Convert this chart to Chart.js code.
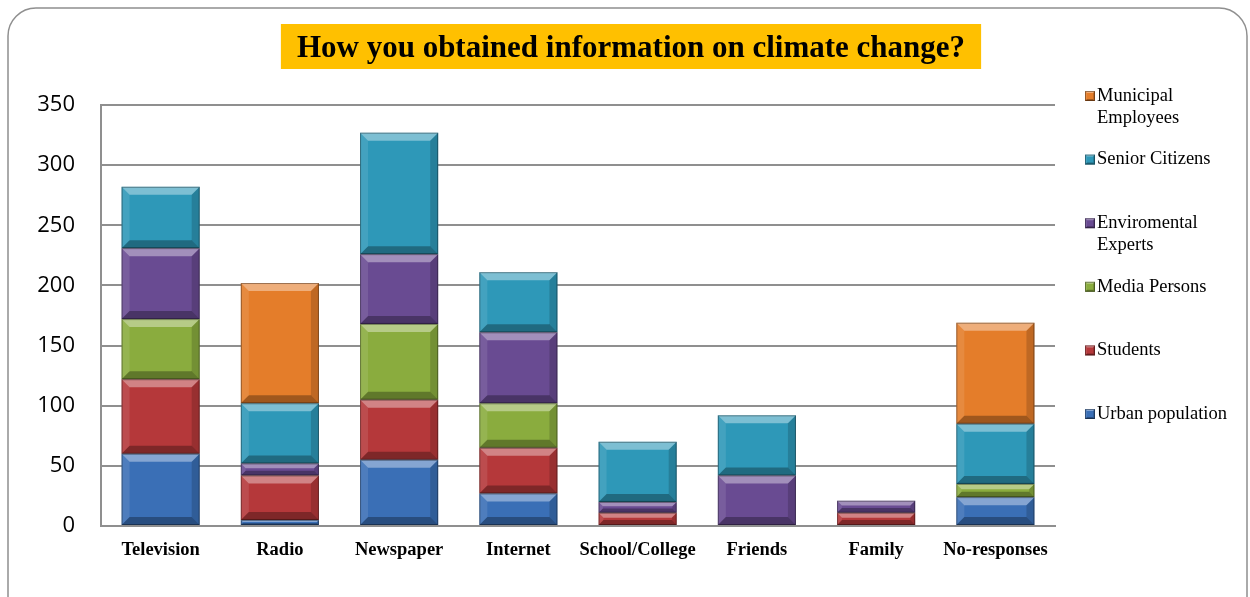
<!DOCTYPE html>
<html>
<head>
<meta charset="utf-8">
<script src="https://cdn.jsdelivr.net/npm/chart.js@4.4.0/dist/chart.umd.min.js"></script>
<style>
  html, body { margin: 0; padding: 0; background: #fff; }
  #wrap { width: 1250px; height: 597px; position: relative; }
</style>
</head>
<body>
<div id="wrap"><canvas id="myChart" width="1250" height="597"></canvas></div>
<script>
var titleText = 'How you obtained information on climate change?';
var categories = ['Television', 'Radio', 'Newspaper', 'Internet', 'School/College', 'Friends', 'Family', 'No-responses'];
var yTicks = [0, 50, 100, 150, 200, 250, 300, 350];

// series, bottom of the stack first
var urbanPopulation = [60, 5, 55, 27, 0, 0, 0, 24];
var students = [62, 37, 50, 38, 11, 0, 11, 0];
var mediaPersons = [50, 0, 63, 37, 0, 0, 0, 11];
var enviromentalExperts = [59, 10, 58, 59, 9, 42, 10, 0];
var seniorCitizens = [51, 50, 101, 50, 50, 50, 0, 50];
var municipalEmployees = [0, 100, 0, 0, 0, 0, 0, 84];

var seriesNames = ['Urban population', 'Students', 'Media Persons', 'Enviromental Experts', 'Senior Citizens', 'Municipal Employees'];
var seriesData = [urbanPopulation, students, mediaPersons, enviromentalExperts, seniorCitizens, municipalEmployees];
var seriesColors = ['#3a6fb6', '#b5383a', '#8aac3e', '#694b92', '#2e98b8', '#e47d2a'];

document.addEventListener('DOMContentLoaded', function() {
    const ctx = document.getElementById('myChart').getContext('2d');

    // raised "bevel" look on a rectangle
    function bevel(c, l, t, r, b, s) {
        c.fillStyle = 'rgba(255,255,255,0.38)';
        c.beginPath(); c.moveTo(l, t); c.lineTo(r, t); c.lineTo(r - s, t + s); c.lineTo(l + s, t + s); c.closePath(); c.fill();
        c.fillStyle = 'rgba(0,0,0,0.30)';
        c.beginPath(); c.moveTo(l, b); c.lineTo(r, b); c.lineTo(r - s, b - s); c.lineTo(l + s, b - s); c.closePath(); c.fill();
        c.fillStyle = 'rgba(255,255,255,0.10)';
        c.beginPath(); c.moveTo(l, t); c.lineTo(l + s, t + s); c.lineTo(l + s, b - s); c.lineTo(l, b); c.closePath(); c.fill();
        c.fillStyle = 'rgba(0,0,0,0.16)';
        c.beginPath(); c.moveTo(r, t); c.lineTo(r - s, t + s); c.lineTo(r - s, b - s); c.lineTo(r, b); c.closePath(); c.fill();
        c.strokeStyle = 'rgba(0,0,0,0.35)';
        c.lineWidth = 1;
        c.strokeRect(l + 0.5, t + 0.5, r - l - 1, b - t - 1);
    }

    const framePlugin = {
        id: 'frame',
        beforeDraw(chart) {
            const c = chart.ctx;
            c.save();
            c.fillStyle = '#fff';
            c.fillRect(0, 0, chart.width, chart.height);
            c.strokeStyle = '#8f8f8f';
            c.lineWidth = 1.5;
            c.beginPath();
            c.roundRect(8, 8, 1239, 640, 28);
            c.stroke();

            // title on a yellow band
            c.font = 'bold 31px "Liberation Serif", "Times New Roman", serif';
            const w = c.measureText(titleText).width;
            const cx = 631;
            c.fillStyle = '#ffc000';
            c.fillRect(cx - w / 2 - 16, 24, w + 32, 45);
            c.fillStyle = '#000';
            c.textAlign = 'center';
            c.textBaseline = 'alphabetic';
            c.fillText(titleText, cx, 57);
            c.restore();
        }
    };

    const bevelPlugin = {
        id: 'bevel',
        afterDatasetsDraw(chart) {
            const c = chart.ctx;
            c.save();
            chart.data.datasets.forEach(function(ds, i) {
                chart.getDatasetMeta(i).data.forEach(function(el) {
                    const top = Math.min(el.y, el.base), bottom = Math.max(el.y, el.base);
                    const h = bottom - top;
                    if (h < 1) return;
                    const l = el.x - el.width / 2, r = el.x + el.width / 2;
                    bevel(c, l, top, r, bottom, Math.min(8, h * 0.4));
                });
            });
            c.restore();
        }
    };

    // legend at the right, top item is the top of the stack
    const legendPlugin = {
        id: 'sideLegend',
        afterDraw(chart) {
            const c = chart.ctx;
            c.save();
            c.font = '18.5px "Liberation Serif", "Times New Roman", serif';
            c.textBaseline = 'middle';
            c.textAlign = 'left';
            const n = chart.data.datasets.length;
            for (let k = 0; k < n; k++) {
                const ds = chart.data.datasets[n - 1 - k];
                const y = 96 + k * 63.6;
                c.fillStyle = ds.backgroundColor;
                c.fillRect(1085, y - 5, 10, 10);
                bevel(c, 1085, y - 5, 1095, y + 5, 2);
                // wrap long names onto two lines
                const words = ds.label.split(' ');
                let lines = [ds.label];
                if (c.measureText(ds.label).width > 135 && words.length > 1) {
                    lines = [words[0], words.slice(1).join(' ')];
                }
                c.fillStyle = '#000';
                lines.forEach(function(line, j) {
                    c.fillText(line, 1097, y + j * 22);
                });
            }
            c.restore();
        }
    };

    const myChart = new Chart(ctx, {
        type: 'bar',
        data: {
            labels: categories,
            datasets: seriesNames.map(function(name, i) {
                return {
                    label: name,
                    data: seriesData[i],
                    backgroundColor: seriesColors[i],
                    borderWidth: 0,
                    barPercentage: 0.655,
                    categoryPercentage: 1.0
                };
            })
        },
        options: {
            responsive: false,
            animation: false,
            layout: { padding: { top: 105, right: 195, bottom: 30, left: 20 } },
            plugins: {
                legend: { display: false },
                title: { display: false },
                tooltip: { enabled: false }
            },
            scales: {
                x: {
                    stacked: true,
                    grid: { display: false, drawTicks: false },
                    border: { display: true, color: '#8f8f8f', width: 2 },
                    ticks: {
                        color: '#000',
                        padding: 13,
                        autoSkip: false,
                        maxRotation: 0,
                        minRotation: 0,
                        font: { family: '"Liberation Serif", "Times New Roman", serif', size: 18.5, weight: 'bold' }
                    },
                    afterFit(scale) { scale.height = 41; }
                },
                y: {
                    stacked: true,
                    min: 0,
                    max: 350,
                    afterBuildTicks(scale) { scale.ticks = yTicks.map(function(v) { return { value: v }; }); },
                    grid: { color: '#8f8f8f', lineWidth: 2, drawTicks: false },
                    border: { display: true, color: '#8f8f8f', width: 2 },
                    ticks: {
                        color: '#000',
                        padding: 26,
                        font: { family: '"Open Sans", "Liberation Sans", sans-serif', size: 22 }
                    },
                    afterFit(scale) { scale.width = 81; }
                }
            }
        },
        plugins: [framePlugin, bevelPlugin, legendPlugin]
    });
});
</script>
</body>
</html>
